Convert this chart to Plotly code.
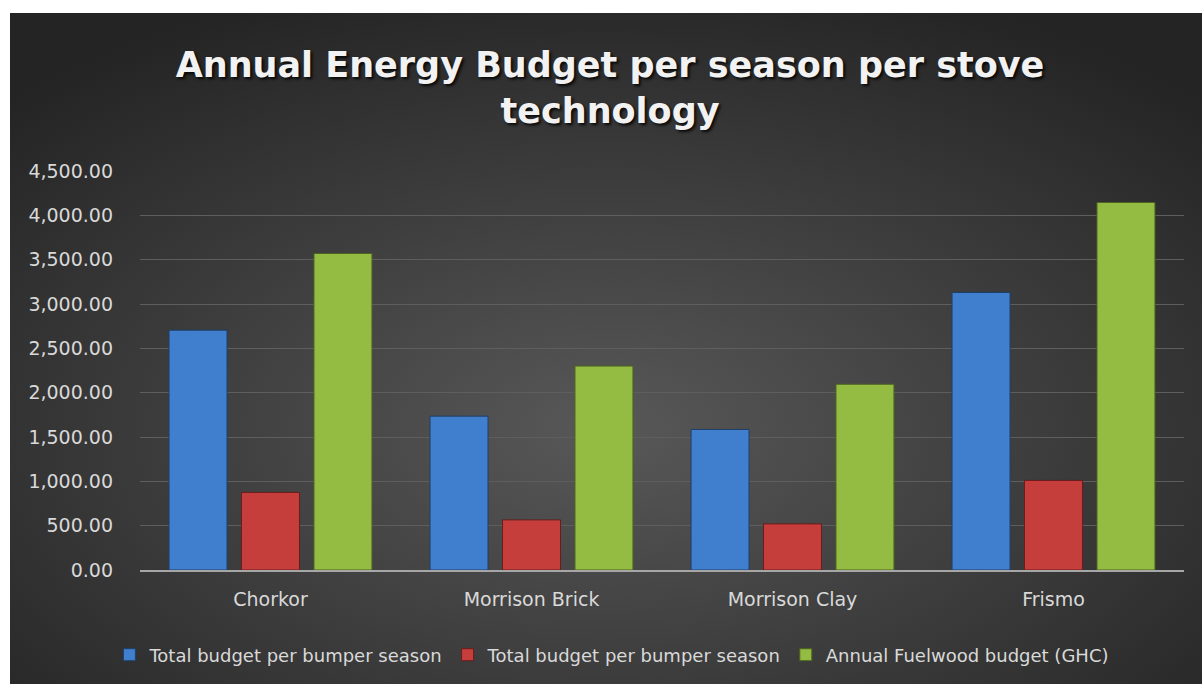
import base64
import plotly.graph_objects as go

categories = ["Chorkor", "Morrison Brick", "Morrison Clay", "Frismo"]
series_names = ["Total budget per bumper season", "Total budget per bumper season", "Annual Fuelwood budget (GHC)"]
bumper_budget = [2705, 1735, 1585, 3130]
lean_budget = [875, 565, 520, 1010]
annual_fuelwood = [3570, 2300, 2095, 4145]
tick_values = [0, 500, 1000, 1500, 2000, 2500, 3000, 3500, 4000, 4500]

colors = ["#3f7fce", "#c63e3b", "#94bb42"]
line_colors = ["#1f3f6a", "#6a1d1c", "#4d6322"]

W, H = 1202, 684
L, R, T, B = 140, 18, 171, 114
pw, ph = W - L - R, H - T - B

svg = (
    '<svg xmlns="http://www.w3.org/2000/svg" width="1192" height="671" viewBox="0 0 1192 671" preserveAspectRatio="none">'
    '<defs><radialGradient id="g" cx="50%" cy="62%" r="70%" fx="50%" fy="62%">'
    '<stop offset="0%" stop-color="#585858"/><stop offset="100%" stop-color="#242424"/>'
    '</radialGradient></defs><rect width="1192" height="671" fill="url(#g)"/></svg>'
)
src = "data:image/svg+xml;base64," + base64.b64encode(svg.encode()).decode()

FONT = "DejaVu Sans"

fig = go.Figure()
for name, vals, c, lc in zip(series_names, [bumper_budget, lean_budget, annual_fuelwood], colors, line_colors):
    fig.add_trace(go.Bar(
        x=categories, y=vals, name=name,
        marker=dict(color=c, line=dict(color=lc, width=1)),
    ))

fig.update_layout(
    width=W, height=H,
    margin=dict(l=L, r=R, t=T, b=B, autoexpand=False),
    paper_bgcolor="white",
    plot_bgcolor="rgba(0,0,0,0)",
    barmode="group", bargap=0.167, bargroupgap=0.2,
    images=[dict(
        source=src, xref="paper", yref="paper",
        x=(10 - L) / pw, y=1 + (T - 13) / ph,
        sizex=(W - 10) / pw, sizey=(H - 13) / ph,
        xanchor="left", yanchor="top", sizing="stretch", layer="below",
    )],
    title=dict(
        text="Annual Energy Budget per season per stove<br>technology",
        x=0.5075, xanchor="center", y=1 - 77 / H, yanchor="middle", yref="container",
        font=dict(family=FONT, size=35, color="#f2f2f2", weight="bold",
                  shadow="2px 2px 3px rgba(0,0,0,0.85)"),
    ),
    font=dict(family=FONT, color="#d9d9d9", size=19),
    showlegend=True,
    legend=dict(
        orientation="h", x=0.452, xanchor="center", y=-(655 - 570) / ph, yanchor="middle",
        font=dict(size=18, color="#d9d9d9", family=FONT), bgcolor="rgba(0,0,0,0)",
        itemwidth=30, tracegroupgap=0,
    ),
    xaxis=dict(
        showgrid=False, showline=True, linecolor="#a6a6a6", linewidth=2,
        tickfont=dict(size=19, color="#d9d9d9", family=FONT), ticks="",
        ticklabelstandoff=11,
    ),
    yaxis=dict(
        range=[0, 4500], tickvals=tick_values, tickformat=",.2f",
        showgrid=True, gridcolor="#5e5e5e", gridwidth=1,
        zeroline=False, showline=False, ticks="",
        tickfont=dict(size=19, color="#d9d9d9", family=FONT), ticklabelstandoff=26,
    ),
)

fig.write_html("out.html", config={"displayModeBar": False},
               post_script="document.body.style.margin='0';")
